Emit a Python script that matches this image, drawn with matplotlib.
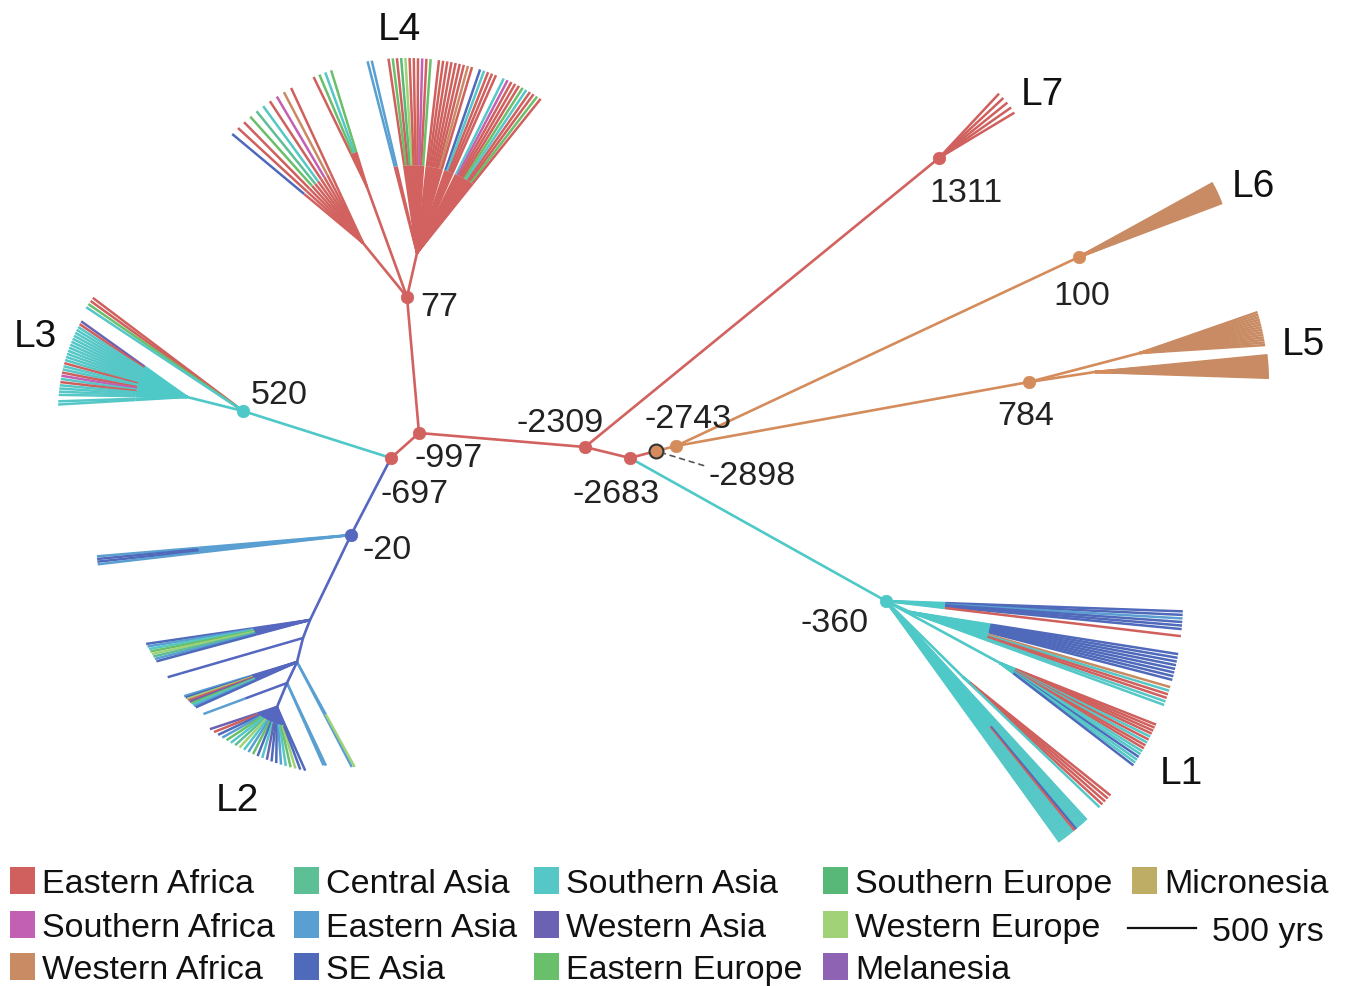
import numpy as np
import matplotlib
matplotlib.use("Agg")
import matplotlib.pyplot as plt
from matplotlib.patches import Rectangle
from matplotlib.collections import LineCollection

plt.rcParams['font.family'] = ['Liberation Sans', 'DejaVu Sans']

# ---------------- data ----------------
regions = ["Eastern Africa", "Southern Africa", "Western Africa",
           "Central Asia", "Eastern Asia", "SE Asia",
           "Southern Asia", "Western Asia", "Eastern Europe",
           "Southern Europe", "Western Europe", "Melanesia",
           "Micronesia"]
region_codes = ["E", "S", "W", "C", "A", "K", "H", "V", "X", "U", "Y", "M", "N"]
region_colors = ["#cf605d", "#c260b4", "#c98b63",
                 "#5dbf96", "#5a9fd1", "#4f69bb",
                 "#55c7c7", "#6c62b3", "#6abf6a",
                 "#58b877", "#a2d277", "#8e63b3",
                 "#bead64"]

branch_colors = {"red": "#d1625f", "cyan": "#4fc8c8", "orange": "#d48c5c",
                 "blue": "#5567bf", "lblue": "#5a9fd1"}

# tree nodes (layout of the unrooted time tree) and their date labels
node_ids = ["n77", "n997", "n697", "n520", "n20", "n2309", "n2683", "n2898",
            "n2743", "n1311", "n100", "n784", "n360",
            "L4a", "L4b", "L4c", "L3a", "L2a", "L2b", "L2c", "L2d", "L2e",
            "L1b", "L1c", "L1d", "L5a", "L5b"]
node_x = [407, 419, 391, 243, 351, 585, 630, 656, 676, 939, 1079, 1029, 886,
          363, 367, 417, 187, 310, 303, 297, 287, 277,
          910, 1000, 963, 1140, 1095]
node_y = [297, 433, 458, 411, 535, 447, 458, 451, 446, 158, 257, 382, 601,
          243, 187, 253, 397, 620, 638, 662, 683, 707,
          612, 663, 677, 353, 372]
node_dates = ["77", "-997", "-697", "520", "-20", "-2309", "-2683", "-2898",
              "-2743", "1311", "100", "784", "-360"]
node_mark_colors = ["red", "red", "red", "cyan", "blue", "red", "red", "orange",
                    "orange", "red", "orange", "orange", "cyan"]

edges = [("n997", "n77", "red"), ("n997", "n697", "red"), ("n697", "n520", "cyan"),
         ("n697", "n20", "blue"), ("n997", "n2309", "red"), ("n2309", "n1311", "red"),
         ("n2309", "n2683", "red"), ("n2683", "n2898", "red"), ("n2898", "n2743", "orange"),
         ("n2743", "n100", "orange"), ("n2743", "n784", "orange"), ("n2683", "n360", "cyan"),
         ("n77", "L4a", "red"), ("n77", "L4b", "red"), ("n77", "L4c", "red"),
         ("n520", "L3a", "cyan"),
         ("n20", "L2a", "blue"), ("L2a", "L2b", "blue"), ("L2b", "L2c", "blue"),
         ("L2c", "L2d", "blue"), ("L2d", "L2e", "blue"),
         ("n360", "L1b", "cyan"), ("n360", "L1c", "cyan"), ("n360", "L1d", "cyan"),
         ("n784", "L5a", "orange"), ("n784", "L5b", "orange")]

# leaf fans: (lineage node, base node, radius, start angle, end angle,
#             tip regions ('.' = empty slot), stem share, stem colour)
fans = [
    ("n77", "L4a", 239, 137, 119, "KEEXCHESWE", 0.45, "red"),
    ("n77", "L4b", 239, 113, 108.5, "EXHX", 0.3, "red"),
    ("n77", "L4c", 239, 99.5, 56,
     "AA...EXEUYEEESEX.EEEEEEEWE.KHEEE.HSEEEXHEEXE", 0.45, "red"),
    ("n520", "n520", 188, 143, 146.5, "EEXH", 0.05, "cyan"),
    ("n520", "L3a", 185, 151, 178, "VEHHHHHHHHHHHHEHHESHEHHHH.HH", 0.4, "cyan"),
    ("n20", "n20", 255, 184.8, 186.6, "AKKA", 0.6, "lblue"),
    ("n20", "L2a", 232, 208, 213, "KAHXYCAK", 0.35, "blue"),
    ("n20", "L2b", 232, 217.8, 217.8, "K", 0.9, "blue"),
    ("n20", "L2c", 232, 224, 228, "AKYEVXHAK", 0.4, "blue"),
    ("n20", "L2d", 232, 230.5, 230.5, "A", 0.5, "blue"),
    ("n20", "L2c", 232, 270.2, 270.9, "AY", 0.5, "lblue"),
    ("n20", "L2d", 232, 263.2, 263.8, "AA", 0.5, "lblue"),
    ("n20", "L2e", 240, 234, 259, "VEKAXHCYHAXKHVKKAHXYKK", 0.3, "blue"),
    ("n360", "n360", 297, -2.0, -6.8, "KKAKKK.E", 0.2, "cyan"),
    ("n360", "L1b", 297, -10.3, -20.5, "KKKKKKKK.WHEEHH", 0.3, "cyan"),
    ("n360", "L1c", 297, -24.6, -33.6, "EEEEHEHEEHHKHHK", 0.1, "cyan"),
    ("n360", "L1d", 297, -40.9, -44.0, "EEEEH", 0.05, "cyan"),
    ("n360", "n360", 297, -47.5, -54.2, "HHHHHHKEHHHHHHHH", 0.55, "cyan"),
    ("n1311", "n1311", 88, 47, 31, "EEEEE", 0.1, "red"),
    ("n100", "n100", 153, 28.9, 20.7, "WWWWWWWWWWWWWWWW", 0.1, "orange"),
    ("n784", "L5a", 239, 17, 8.9, "WWWWWWWWWWWWWW", 0.1, "orange"),
    ("n784", "L5b", 240, 6.4, 1.0, "WWWWWWWWWWWWWW", 0.1, "orange"),
]

# lineage labels
lineages = ["L1", "L2", "L3", "L4", "L5", "L6", "L7"]
lineage_label_x = [1160, 216, 14, 378, 1282, 1232, 1021]
lineage_label_y = [784, 811, 347, 40, 355, 197, 105]

# date label placement
date_label_x = [420, 415, 381, 251, 362, 517, 573, 709, 645, 929, 1053, 997, 801]
date_label_y = [316, 467, 503, 404, 559, 432, 503, 485, 428, 202, 305, 425, 632]

# ---------------- drawing ----------------
fig = plt.figure(figsize=(13.5, 9.86), dpi=100)
ax = fig.add_axes([0, 0, 1, 1])
ax.set_xlim(0, 1350)
ax.set_ylim(986, 0)
ax.axis("off")

pos = {n: (x, y) for n, x, y in zip(node_ids, node_x, node_y)}
code_color = dict(zip(region_codes, region_colors))

# leaves
for origin, base, R, a0, a1, codes, frac, stem in fans:
    ox, oy = pos[origin]
    bx, by = pos[base]
    angs = np.linspace(a0, a1, len(codes))
    stem_segs, leaf_segs, leaf_cols = [], [], []
    for a, c in zip(angs, codes):
        if c == ".":
            continue
        tx = ox + R * np.cos(np.radians(a))
        ty = oy - R * np.sin(np.radians(a))
        px = bx + frac * (tx - bx)
        py = by + frac * (ty - by)
        stem_segs.append([(bx, by), (px, py)])
        leaf_segs.append([(px, py), (tx, ty)])
        leaf_cols.append(code_color[c])
    ax.add_collection(LineCollection(stem_segs, colors=branch_colors[stem],
                                     linewidths=1.8, zorder=2))
    ax.add_collection(LineCollection(leaf_segs, colors=leaf_cols,
                                     linewidths=1.8, zorder=2))

# internal branches
for p, c, col in edges:
    ax.plot([pos[p][0], pos[c][0]], [pos[p][1], pos[c][1]],
            color=branch_colors[col], lw=1.9, zorder=3, solid_capstyle="round")

# dated nodes
for i, d in enumerate(node_dates):
    x, y = pos[node_ids[i]]
    ec = "#333333" if d == "-2898" else branch_colors[node_mark_colors[i]]
    ax.plot(x, y, "o", ms=9 if d != "-2898" else 10,
            mfc=branch_colors[node_mark_colors[i]], mec=ec,
            mew=1.5 if d == "-2898" else 0.5, zorder=5)
    if d == "-2898":
        ax.annotate(d, xy=(x, y), xytext=(date_label_x[i], date_label_y[i]),
                    fontsize=24.5, color="#222222", ha="left", va="baseline",
                    arrowprops=dict(arrowstyle="-", ls=(0, (3, 3)), color="#555555",
                                    lw=1.2, shrinkA=2, shrinkB=6,
                                    relpos=(0, 0.8)), zorder=6)
    else:
        ax.text(date_label_x[i], date_label_y[i], d, fontsize=24.5,
                color="#222222", ha="left", va="baseline", zorder=6)

for lab, x, y in zip(lineages, lineage_label_x, lineage_label_y):
    ax.text(x, y, lab, fontsize=28, color="#111111", ha="left", va="baseline")

# legend
col_text_x = [42, 326, 566, 855, 1164]
row_base_y = [893, 937, 979]
for k, (name, colr) in enumerate(zip(regions, region_colors)):
    ci, ri = divmod(k, 3)
    tx, ty = col_text_x[ci], row_base_y[ri]
    ax.add_patch(Rectangle((tx - 32, ty - 26), 25, 27, facecolor=colr,
                           edgecolor="none", zorder=4))
    ax.text(tx, ty, name, fontsize=24.5, color="#111111", ha="left",
            va="baseline")

# scale bar (500 yrs)
ax.plot([1128, 1196], [928, 928], color="#111111", lw=1.6)
ax.text(1212, 941, "500 yrs", fontsize=24.5, color="#111111", ha="left",
        va="baseline")

fig.savefig("out.png", dpi=100, facecolor="white")
